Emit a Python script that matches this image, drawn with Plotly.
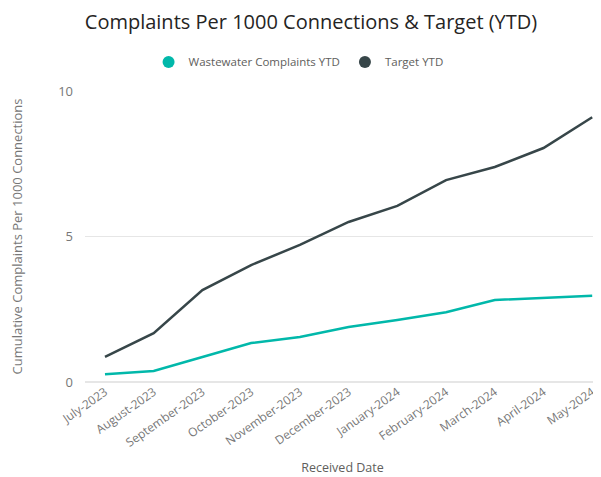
import plotly.graph_objects as go

months = ["July-2023", "August-2023", "September-2023", "October-2023", "November-2023",
          "December-2023", "January-2024", "February-2024", "March-2024", "April-2024", "May-2024"]
wastewater = [0.27, 0.38, 0.86, 1.34, 1.55, 1.89, 2.13, 2.40, 2.82, 2.89, 2.96]
target = [0.86, 1.68, 3.16, 4.02, 4.71, 5.50, 6.05, 6.94, 7.39, 8.04, 9.10]
y_ticks = [0, 5, 10]
series = [("Wastewater Complaints YTD", wastewater, "#01B8AA"),
          ("Target YTD", target, "#374649")]

FONT = "Open Sans"
fig = go.Figure()
for name, vals, color in series:
    fig.add_trace(go.Scatter(x=months, y=vals, name=name, mode="lines",
                             line=dict(color=color, width=2.5), showlegend=False,
                             legendgroup=name))
for name, vals, color in series:
    fig.add_trace(go.Scatter(x=[None], y=[None], name=name, mode="markers",
                             marker=dict(color=color, size=12, symbol="circle"),
                             legendgroup=name, showlegend=True))

# page body has an 8px default margin; figure is sized to fit the window
fig.update_layout(
    width=593, height=469,
    margin=dict(l=77, r=1, t=83, b=95),
    paper_bgcolor="white", plot_bgcolor="white",
    font=dict(family=FONT, color="#605E5C", size=11),
    title=dict(text="Complaints Per 1000 Connections & Target (YTD)",
               x=0.511, xanchor="center", xref="container", y=0.970, yanchor="middle",
               font=dict(family=FONT, size=20, color="#252423")),
    legend=dict(orientation="h", x=0.49, xanchor="center", xref="container",
                y=0.885, yanchor="middle", yref="container",
                font=dict(family=FONT, size=11.5, color="#605E5C"),
                itemwidth=30, traceorder="normal", tracegroupgap=0),
    showlegend=True,
)
fig.update_xaxes(range=[-0.41, 10.16], tickangle=-35, showgrid=False, showline=False,
                 automargin=False, ticks="", tickfont=dict(size=12, color="#777777"),
                 title=dict(text="Received Date", font=dict(size=12.5, color="#605E5C"), standoff=13))
fig.update_yaxes(range=[0, 10], tickvals=y_ticks, showgrid=True, gridcolor="#E6E6E6",
                 automargin=False,
                 zeroline=True, zerolinecolor="#E6E6E6", ticks="", ticklabelstandoff=11,
                 tickfont=dict(size=13, color="#777777"),
                 title=dict(text="Cumulative Complaints Per 1000 Connections",
                            font=dict(size=13, color="#777777"), standoff=37))
fig.write_html("out.html")
